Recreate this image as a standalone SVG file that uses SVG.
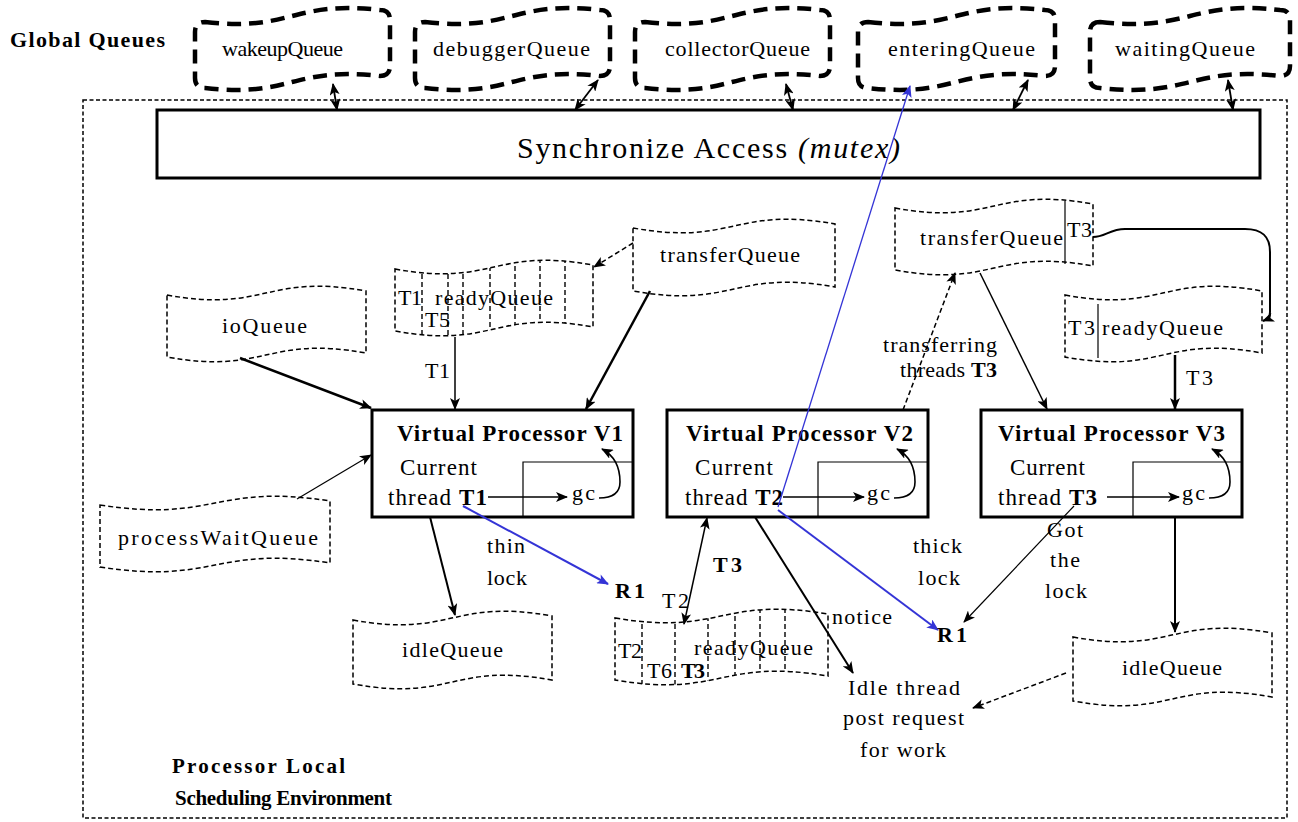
<svg xmlns="http://www.w3.org/2000/svg" xmlns:xlink="http://www.w3.org/1999/xlink" width="1298" height="822" viewBox="0 0 1298 822" font-family="'Liberation Serif', 'Times New Roman', serif">
  <style>
    text { font-family: "Liberation Serif", "Times New Roman", serif; fill: #000; }
    .q { font-size: 22px; }
    .lb { font-size: 22px; }
    .b { font-weight: bold; }
    .gq { fill: #fff; stroke: #000; stroke-width: 4.5; stroke-dasharray: 14 8; }
    .lq { fill: #fff; stroke: #000; stroke-width: 1.5; stroke-dasharray: 5 3; }
    .div { stroke: #000; stroke-width: 1.4; stroke-dasharray: 5 3; fill: none; }
    .sol { stroke: #000; stroke-width: 1.2; fill: none; }
    .box { fill: #fff; stroke: #000; stroke-width: 3; }
    .c { stroke: #000; fill: none; }
    .blue { stroke: #3434d6; fill: none; }
    .dash { stroke-dasharray: 5 3; }
  </style>
  <defs>
    <marker id="ah" viewBox="0 0 12 10" refX="11" refY="5" markerWidth="12" markerHeight="10" markerUnits="userSpaceOnUse" orient="auto-start-reverse">
      <path d="M0,0 L12,5 L0,10 L3,5 z" fill="#000"/>
    </marker>
    <marker id="ahb" viewBox="0 0 12 10" refX="11" refY="5" markerWidth="13" markerHeight="10" markerUnits="userSpaceOnUse" orient="auto-start-reverse">
      <path d="M0,0 L12,5 L0,10 L3,5 z" fill="#3434d6"/>
    </marker>
    <path id="rq1" d="M 395,269 C 494,287 494,247 593,265 L 593,327 C 494,309 494,349 395,331 Z"/>
    <path id="rq2" d="M 615,618 C 721,636 721,596 828,614 L 828,676 C 721,658 721,698 615,680 Z"/>
    <clipPath id="clip-rq1"><use xlink:href="#rq1"/></clipPath>
    <clipPath id="clip-rq2"><use xlink:href="#rq2"/></clipPath>
  </defs>

  <rect width="1298" height="822" fill="#fff"/>

  <!-- scheduling environment frame -->
  <rect id="frame" x="83" y="100" width="1204" height="718" fill="none" stroke="#000" stroke-width="1.5" stroke-dasharray="4 2.5"/>
  <text class="b" x="10" y="47" font-size="22" textLength="155">Global Queues</text>
  <text class="b" x="172" y="773" font-size="21" textLength="173">Processor Local</text>
  <text class="b" x="175" y="805" font-size="21" textLength="217">Scheduling Environment</text>

  <!-- global queues -->
  <g id="wakeupQueue">
    <path class="gq" d="M 205,22 C 292,32 292,0 380,10 Q 390,10 390,20 L 390,66 Q 390,76 380,76 C 292,66 292,98 205,88 Q 195,88 195,78 L 195,32 Q 195,22 205,22 Z"/>
    <text class="q" x="222" y="56" textLength="121">wakeupQueue</text>
  </g>
  <g id="debuggerQueue">
    <path class="gq" d="M 425,22 C 512,32 512,0 600,10 Q 610,10 610,20 L 610,66 Q 610,76 600,76 C 512,66 512,98 425,88 Q 415,88 415,78 L 415,32 Q 415,22 425,22 Z"/>
    <text class="q" x="433" y="56" textLength="157">debuggerQueue</text>
  </g>
  <g id="collectorQueue">
    <path class="gq" d="M 645,22 C 732,32 732,0 820,10 Q 830,10 830,20 L 830,66 Q 830,76 820,76 C 732,66 732,98 645,88 Q 635,88 635,78 L 635,32 Q 635,22 645,22 Z"/>
    <text class="q" x="665" y="56" textLength="145">collectorQueue</text>
  </g>
  <g id="enteringQueue">
    <path class="gq" d="M 868,22 C 956,32 956,0 1045,10 Q 1055,10 1055,20 L 1055,66 Q 1055,76 1045,76 C 956,66 956,98 868,88 Q 858,88 858,78 L 858,32 Q 858,22 868,22 Z"/>
    <text class="q" x="888" y="56" textLength="147">enteringQueue</text>
  </g>
  <g id="waitingQueue">
    <path class="gq" d="M 1100,22 C 1190,32 1190,0 1280,10 Q 1290,10 1290,20 L 1290,66 Q 1290,76 1280,76 C 1190,66 1190,98 1100,88 Q 1090,88 1090,78 L 1090,32 Q 1090,22 1100,22 Z"/>
    <text class="q" x="1115" y="56" textLength="140">waitingQueue</text>
  </g>

  <!-- mutex bar -->
  <g id="sync">
    <rect class="box" x="157" y="110" width="1103" height="68"/>
    <text x="517" y="158" font-size="30" textLength="383">Synchronize Access <tspan font-style="italic">(mutex)</tspan></text>
  </g>

  <!-- local queues -->
  <g id="transferQueue1">
    <path class="lq" d="M 633,228 C 734,246 734,206 835,224 L 835,287 C 734,269 734,309 633,291 Z"/>
    <text class="q" x="660" y="262" textLength="140">transferQueue</text>
  </g>
  <g id="readyQueue1">
    <use xlink:href="#rq1" class="lq"/>
    <g clip-path="url(#clip-rq1)">
      <path class="div" d="M422,250 V345 M448,250 V345 M463,250 V345 M490,250 V345 M515,250 V345 M540,250 V345 M565,250 V345"/>
    </g>
    <text class="q" x="398" y="305" textLength="24">T1</text>
    <text class="q" x="435" y="305" textLength="118">readyQueue</text>
    <text class="q" x="425" y="327" textLength="25">T5</text>
  </g>
  <g id="ioQueue">
    <path class="lq" d="M 167,295 C 266,313 266,273 366,291 L 366,353 C 266,335 266,375 167,357 Z"/>
    <text class="q" x="222" y="333" textLength="85">ioQueue</text>
  </g>
  <g id="processWaitQueue">
    <path class="lq" d="M 100,505 C 215,523 215,483 330,501 L 330,563 C 215,545 215,585 100,567 Z"/>
    <text class="q" x="118" y="545" textLength="200">processWaitQueue</text>
  </g>
  <g id="idleQueue1">
    <path class="lq" d="M 353,620 C 452,638 452,598 552,616 L 552,680 C 452,662 452,702 353,684 Z"/>
    <text class="q" x="402" y="657" textLength="101">idleQueue</text>
  </g>
  <g id="readyQueue2">
    <use xlink:href="#rq2" class="lq"/>
    <g clip-path="url(#clip-rq2)">
      <path class="div" d="M642,600 V700 M675,600 V700 M708,600 V700 M735,600 V700 M760,600 V700 M785,600 V700"/>
    </g>
    <text class="q" x="618" y="658" textLength="24">T2</text>
    <text class="q" x="647" y="678" textLength="25">T6</text>
    <text class="q b" x="681" y="678" textLength="24">T3</text>
    <text class="q" x="694" y="655" textLength="119">readyQueue</text>
  </g>
  <g id="transferQueue3">
    <path class="lq" d="M 895,208 C 994,226 994,186 1093,204 L 1093,266 C 994,248 994,288 895,270 Z"/>
    <path class="sol" d="M1065,201 V264"/>
    <text class="q" x="920" y="245" textLength="143">transferQueue</text>
    <text class="q" x="1067" y="237" textLength="25">T3</text>
  </g>
  <g id="readyQueue3">
    <path class="lq" d="M 1065,295 C 1163,313 1163,273 1262,291 L 1262,353 C 1163,335 1163,375 1065,357 Z"/>
    <path class="sol" d="M1098,304 V358"/>
    <text class="q" x="1068" y="335" textLength="27">T3</text>
    <text class="q" x="1102" y="335" textLength="121">readyQueue</text>
  </g>
  <g id="idleQueue3">
    <path class="lq" d="M 1073,637 C 1172,655 1172,615 1272,633 L 1272,697 C 1172,679 1172,719 1073,701 Z"/>
    <text class="q" x="1122" y="675" textLength="100">idleQueue</text>
  </g>

  <!-- virtual processors -->
  <g id="vp1">
    <rect class="box" x="372" y="410" width="261" height="107"/>
    <path class="sol" d="M523,517 V462 H633"/>
    <text class="b" x="397" y="441" font-size="23" textLength="226">Virtual Processor V1</text>
    <text x="400" y="475" font-size="23" textLength="77">Current</text>
    <text x="388" y="505" font-size="23" textLength="99">thread <tspan class="b">T1</tspan></text>
    <text class="q" x="572" y="500" textLength="23">gc</text>
  </g>
  <g id="vp2">
    <rect class="box" x="667" y="410" width="261" height="107"/>
    <path class="sol" d="M818,517 V462 H928"/>
    <text class="b" x="686" y="441" font-size="23" textLength="227">Virtual Processor V2</text>
    <text x="695" y="475" font-size="23" textLength="78">Current</text>
    <text x="685" y="505" font-size="23" textLength="98">thread <tspan class="b">T2</tspan></text>
    <text class="q" x="867" y="500" textLength="23">gc</text>
  </g>
  <g id="vp3">
    <rect class="box" x="981" y="410" width="261" height="107"/>
    <path class="sol" d="M1133,517 V462 H1242"/>
    <text class="b" x="998" y="441" font-size="23" textLength="227">Virtual Processor V3</text>
    <text x="1010" y="475" font-size="23" textLength="75">Current</text>
    <text x="998" y="505" font-size="23" textLength="99">thread <tspan class="b">T3</tspan></text>
    <text class="q" x="1182" y="500" textLength="23">gc</text>
  </g>

  <!-- connectors -->
  <g id="connectors">
    <!-- global queue access through the mutex -->
    <path class="c" stroke-width="1.8" marker-start="url(#ah)" marker-end="url(#ah)" d="M333,84 L337,110"/>
    <path class="c" stroke-width="1.8" marker-start="url(#ah)" marker-end="url(#ah)" d="M598,80 L575,110"/>
    <path class="c" stroke-width="1.8" marker-start="url(#ah)" marker-end="url(#ah)" d="M786,84 L793,110"/>
    <path class="c" stroke-width="1.8" marker-start="url(#ah)" marker-end="url(#ah)" d="M1028,80 L1013,110"/>
    <path class="c" stroke-width="1.8" marker-start="url(#ah)" marker-end="url(#ah)" d="M1228,80 L1233,110"/>

    <!-- V1 side -->
    <path class="c dash" stroke-width="1.5" marker-end="url(#ah)" d="M633,243 L594,267"/>
    <path class="c" stroke-width="2.5" marker-end="url(#ah)" d="M650,291 L586,409"/>
    <path class="c" stroke-width="1.5" marker-end="url(#ah)" d="M455,337 L455,409"/>
    <path class="c" stroke-width="2.5" marker-end="url(#ah)" d="M240,358 L371,408"/>
    <path class="c" stroke-width="1.2" marker-end="url(#ah)" d="M297,499 L371,455"/>
    <path class="c" stroke-width="2" marker-end="url(#ah)" d="M430,517 L455,615"/>

    <!-- inner processor flows -->
    <path class="c" stroke-width="1.3" marker-end="url(#ah)" d="M488,497 L567,497"/>
    <path class="c" stroke-width="1.3" marker-end="url(#ah)" d="M783,497 L864,497"/>
    <path class="c" stroke-width="1.3" marker-end="url(#ah)" d="M1107,497 L1179,497"/>
    <path class="c" stroke-width="1.6" marker-end="url(#ah)" d="M599,498 C612,498 620,494 620,482 C620,468 615,456 602,449"/>
    <path class="c" stroke-width="1.6" marker-end="url(#ah)" d="M894,498 C907,498 915,494 915,482 C915,468 910,456 897,449"/>
    <path class="c" stroke-width="1.6" marker-end="url(#ah)" d="M1209,498 C1222,498 1230,494 1230,482 C1230,468 1225,456 1212,449"/>

    <!-- V2 side -->
    <path class="c" stroke-width="1.5" marker-start="url(#ah)" marker-end="url(#ah)" d="M707,518 L684,624"/>
    <path class="c" stroke-width="2" marker-end="url(#ah)" d="M755,517 L853,673"/>
    <path class="c dash" stroke-width="1.5" marker-end="url(#ah)" d="M903,410 L955,273"/>

    <!-- V3 side -->
    <path class="c" stroke-width="1.5" marker-end="url(#ah)" d="M980,273 L1047,409"/>
    <path class="c" stroke-width="2" marker-end="url(#ah)" d="M1093,237 C1105,237 1110,229 1125,229 L1245,229 C1262,229 1270,236 1270,252 L1270,312 C1270,317 1268,319 1263,321"/>
    <path class="c" stroke-width="2.5" marker-end="url(#ah)" d="M1175,355 L1175,409"/>
    <path class="c" stroke-width="1.2" marker-end="url(#ah)" d="M1074,506 L964,622"/>
    <path class="c" stroke-width="2" marker-end="url(#ah)" d="M1175,517 L1175,632"/>
    <path class="c dash" stroke-width="1.5" marker-end="url(#ah)" d="M1066,673 L973,708"/>

    <!-- lock requests -->
    <path class="blue" stroke-width="2" marker-end="url(#ahb)" d="M463,506 L608,584"/>
    <path class="blue" stroke-width="2" marker-end="url(#ahb)" d="M778,510 L938,630"/>
    <path class="blue" stroke-width="1.3" marker-end="url(#ahb)" d="M778,507 L910,86"/>
  </g>

  <!-- connector labels -->
  <g id="labels">
    <text class="lb" x="425" y="378" textLength="25">T1</text>
    <text class="lb" x="487" y="553" textLength="38">thin</text>
    <text class="lb" x="487" y="585" textLength="40">lock</text>
    <text class="lb b" x="615" y="598" textLength="30">R1</text>
    <text class="lb" x="662" y="608" textLength="27">T2</text>
    <text class="lb b" x="713" y="572" textLength="29">T3</text>
    <text class="lb" x="832" y="624" textLength="60">notice</text>
    <text class="lb" x="848" y="695" textLength="112">Idle thread</text>
    <text class="lb" x="843" y="725" textLength="121">post request</text>
    <text class="lb" x="860" y="757" textLength="86">for work</text>
    <text class="lb" x="913" y="553" textLength="49">thick</text>
    <text class="lb" x="918" y="585" textLength="42">lock</text>
    <text class="lb b" x="937" y="642" textLength="30">R1</text>
    <text class="lb" x="1047" y="537" textLength="36">Got</text>
    <text class="lb" x="1050" y="567" textLength="30">the</text>
    <text class="lb" x="1045" y="598" textLength="42">lock</text>
    <text class="lb" x="883" y="352" textLength="114">transferring</text>
    <text class="lb" x="900" y="377" textLength="97">threads <tspan class="b">T3</tspan></text>
    <text class="lb" x="1186" y="385" textLength="27">T3</text>
  </g>
</svg>
